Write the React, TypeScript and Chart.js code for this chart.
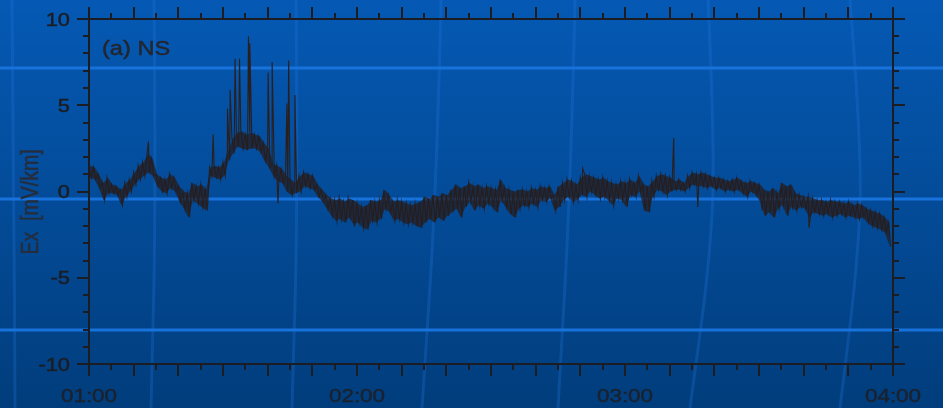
import React, { useEffect, useRef } from 'react';
import { Chart, registerables } from 'chart.js';

Chart.register(...registerables);

// Time axis: minutes of the day, 01:00 .. 04:00
const START_MINUTE = 60;
const END_MINUTE = 240;
const HOUR_LABELS = ['01:00', '02:00', '03:00', '04:00'];

// Ex field, NS component [mV/km]: upper and lower edge of the noisy trace, one pair per minute after 01:00
const exHigh = [
  1.5, 1.4, 1.0, 0.5, 0.8, 0.4, 0.3, 0.1, 0.5, 0.7,
  1.1, 1.5, 1.7, 2.2, 1.9, 1.0, 0.8, 0.7, 1.0, 0.8,
  0.3, 0.0, -0.1, 0.5, 0.3, 0.4, 0.1, 1.4, 1.5, 1.4,
  1.7, 2.4, 3.1, 3.4, 3.5, 3.3, 3.4, 3.3, 3.2, 2.8,
  2.5, 1.6, 1.5, 1.3, 0.9, 0.7, 0.5, 0.9, 1.1, 1.0,
  0.9, 0.4, 0.1, -0.2, -0.4, -0.5, -0.4, -0.6, -0.4, -0.5,
  -0.7, -0.9, -0.8, -0.5, -0.6, -0.5, 0.1, -0.2, -0.6, -0.5,
  -0.6, -0.7, -0.8, -0.7, -0.6, -0.3, -0.4, -0.2, -0.3, -0.1,
  -0.2, 0.1, 0.4, 0.2, 0.3, 0.5, 0.3, 0.4, 0.2, 0.3,
  0.2, 0.1, 0.7, 0.2, 0.1, 0.0, 0.1, 0.1, 0.0, 0.2,
  0.1, 0.3, 0.2, 0.3, -0.2, 0.3, 0.5, 0.7, 0.6, 0.4,
  0.8, 1.0, 0.9, 0.8, 0.7, 0.8, 0.6, 0.5, 0.4, 0.6,
  0.5, 0.7, 0.5, 0.9, 0.4, 0.3, 0.6, 0.9, 1.0, 0.9,
  0.8, 0.6, 0.7, 0.5, 0.9, 1.1, 1.0, 1.1, 1.0, 0.9,
  0.8, 0.8, 0.7, 0.6, 0.7, 0.8, 0.6, 0.5, 0.6, 0.5,
  0.4, 0.1, 0.0, 0.2, -0.1, 0.5, 0.3, 0.4, -0.1, -0.2,
  -0.3, -0.3, -0.4, -0.5, -0.5, -0.6, -0.5, -0.6, -0.6, -0.7,
  -0.6, -0.8, -0.7, -0.8, -1.0, -1.1, -1.2, -1.3, -1.5, -1.8,
];

const exLow = [
  0.8, 0.7, 0.2, -0.5, -0.1, -0.1, -0.2, -0.8, -0.3, 0.0,
  0.4, 0.7, 0.9, 1.1, 0.9, 0.3, 0.0, -0.1, 0.2, 0.0,
  -0.6, -1.0, -1.5, -0.5, -0.7, -0.9, -1.1, 0.9, 0.8, 0.7,
  0.9, 1.8, 2.2, 2.6, 2.5, 2.4, 2.5, 2.5, 2.3, 1.8,
  1.4, 0.9, 0.6, 0.5, 0.0, -0.2, -0.1, 0.0, 0.3, 0.2,
  0.1, -0.3, -0.6, -1.0, -1.4, -1.7, -1.6, -1.8, -1.5, -1.9,
  -1.8, -2.1, -2.2, -1.7, -1.8, -1.6, -1.0, -1.2, -1.7, -1.6,
  -1.8, -1.9, -1.8, -2.0, -2.1, -1.8, -1.6, -1.8, -1.5, -1.7,
  -1.4, -1.2, -1.0, -1.5, -0.9, -0.6, -1.1, -0.8, -1.0, -0.7,
  -0.9, -1.2, -0.5, -0.9, -1.3, -1.5, -1.0, -0.8, -0.9, -0.7,
  -0.9, -0.5, -0.6, -0.4, -1.1, -0.9, -0.5, -0.3, -0.6, -0.5,
  -0.2, -0.3, 0.0, -0.2, -0.4, -0.3, -0.5, -0.8, -0.4, -0.5,
  -0.9, -0.2, -0.3, 0.0, -1.1, -1.2, -0.3, 0.1, 0.0, -0.2,
  0.0, 0.1, 0.1, 0.0, 0.2, 0.4, 0.3, 0.3, 0.2, 0.3,
  0.1, 0.2, 0.0, 0.1, 0.0, 0.1, -0.1, -0.3, 0.0, -0.2,
  -0.6, -1.4, -1.2, -1.5, -1.0, -0.8, -1.4, -0.9, -1.1, -0.9,
  -1.0, -1.5, -1.2, -1.3, -1.4, -1.3, -1.5, -1.4, -1.3, -1.5,
  -1.4, -1.5, -1.6, -1.5, -1.8, -2.0, -2.1, -2.2, -2.4, -3.2,
];

// Short impulsive excursions (minutes after 01:00, value in mV/km)
const spikeMinutes = [13.3, 27.8, 31.0, 31.6, 32.7, 33.7, 35.7, 36.0, 40.1, 41.0, 42.3, 44.3, 44.7, 46.1, 59.4, 110.5, 130.9, 136.3, 150.7, 161.2];
const spikeValues = [2.9, 3.3, 4.8, 5.9, 7.7, 7.7, 9.0, 8.6, 6.9, 7.5, -0.7, 5.1, 7.6, 5.6, -2.0, 1.35, 3.1, -0.9, -1.1, -2.1];

const Y_MIN = -10;
const Y_MAX = 10;
const Y_LABEL_STEP = 5;
const PANEL_LABEL = '(a) NS';
const Y_TITLE = 'Ex  [mV/km]';

// ---- derived series for the library ----
const tracePoints = (() => {
  const pts: { x: number; y: number }[] = [];
  exHigh.forEach((v, i) => {
    pts.push({ x: START_MINUTE + i, y: v });
    pts.push({ x: START_MINUTE + i + 0.5, y: exLow[i] });
  });
  spikeMinutes.forEach((m, i) => pts.push({ x: START_MINUTE + m, y: spikeValues[i] }));
  return pts.sort((a, b) => a.x - b.x);
})();
const highEdge = exHigh.map((v, i) => ({ x: START_MINUTE + i + 0.25, y: v }));
const lowEdge = exLow.map((v, i) => ({ x: START_MINUTE + i + 0.25, y: v }));

const FONT = '"Liberation Sans", Arial, Helvetica, sans-serif';
const STRETCH = 1.18;
const INK = '#1c1d22';

function drawText(ctx: CanvasRenderingContext2D, text: string, x: number, y: number, align: CanvasTextAlign, size: number, color: string) {
  ctx.save();
  ctx.translate(x, y);
  ctx.scale(STRETCH, 1);
  ctx.font = `${size}px ${FONT}`;
  ctx.fillStyle = color;
  ctx.strokeStyle = color;
  ctx.lineWidth = 0.45;
  ctx.textAlign = align;
  ctx.textBaseline = 'alphabetic';
  ctx.fillText(text, 0, 0);
  ctx.strokeText(text, 0, 0);
  ctx.restore();
}

// Backdrop: blue gradient with bright horizontal rules and faint bowed verticals
const backdropArcs: number[][][] = [
  [[12, 0], [14, 200], [15, 408]],
  [[154, 0], [156, 200], [151, 408]],
  [[296, 0], [298, 200], [292, 408]],
  [[441, 0], [437, 180], [422, 408]],
  [[575, 0], [571, 180], [558, 408]],
  [[708, 0], [715, 150], [710, 260], [690, 408]],
  [[850, 0], [862, 150], [858, 260], [840, 408]],
];
const backdropRules = [68, 199, 330];

const backdropPlugin = {
  id: 'backdrop',
  beforeDraw(chart: Chart) {
    const { ctx, width, height } = chart;
    ctx.save();
    const g = ctx.createLinearGradient(0, 0, 0, height);
    g.addColorStop(0, '#0559b4');
    g.addColorStop(1, '#013d7c');
    ctx.fillStyle = g;
    ctx.fillRect(0, 0, width, height);

    ctx.lineWidth = 3;
    ctx.strokeStyle = 'rgba(35,118,222,0.28)';
    backdropArcs.forEach((pts) => {
      ctx.beginPath();
      ctx.moveTo(pts[0][0], pts[0][1]);
      for (let i = 1; i < pts.length - 1; i++) {
        const mx = (pts[i][0] + pts[i + 1][0]) / 2;
        const my = (pts[i][1] + pts[i + 1][1]) / 2;
        ctx.quadraticCurveTo(pts[i][0], pts[i][1], mx, my);
      }
      const last = pts[pts.length - 1];
      ctx.lineTo(last[0], last[1]);
      ctx.stroke();
    });

    ctx.lineWidth = 3;
    ctx.strokeStyle = '#1872dc';
    backdropRules.forEach((y) => {
      ctx.beginPath();
      ctx.moveTo(0, y);
      ctx.lineTo(width, y);
      ctx.stroke();
    });
    ctx.restore();
  },
};

// Boxed frame with outward major/minor ticks and stretched labels
const framePlugin = {
  id: 'frame',
  afterDraw(chart: Chart) {
    const { ctx, chartArea } = chart;
    const { left, right, top, bottom } = chartArea;
    const xs = chart.scales.x;
    const ys = chart.scales.y;
    ctx.save();
    ctx.strokeStyle = INK;
    ctx.lineWidth = 2;
    ctx.lineCap = 'butt';
    ctx.strokeRect(left, top, right - left, bottom - top);

    ctx.beginPath();
    for (let m = START_MINUTE; m <= END_MINUTE; m += 5) {
      const px = Math.round(xs.getPixelForValue(m));
      const len = m % 10 === 0 ? 12 : 6;
      ctx.moveTo(px, bottom);
      ctx.lineTo(px, bottom + len);
      ctx.moveTo(px, top);
      ctx.lineTo(px, top - len);
    }
    for (let v = Y_MIN; v <= Y_MAX; v += 1) {
      const py = Math.round(ys.getPixelForValue(v));
      const len = v % 5 === 0 ? 12 : 6;
      ctx.moveTo(left, py);
      ctx.lineTo(left - len, py);
      ctx.moveTo(right, py);
      ctx.lineTo(right + len, py);
    }
    ctx.stroke();
    ctx.restore();

    xs.ticks.forEach((t, i) => {
      drawText(ctx, HOUR_LABELS[i] ?? '', xs.getPixelForValue(t.value), bottom + 37.5, 'center', 19, '#1b222e');
    });
    ys.ticks.forEach((t) => {
      drawText(ctx, String(t.value), left - 19, ys.getPixelForValue(t.value) + 6.6, 'right', 18.5, INK);
    });

    drawText(ctx, PANEL_LABEL, left + 13, top + 35.5, 'left', 20, '#23262f');

    ctx.save();
    ctx.translate(38, (top + bottom) / 2 + 10.5);
    ctx.scale(STRETCH, 1);
    ctx.rotate(-Math.PI / 2);
    ctx.font = `19.5px ${FONT}`;
    ctx.fillStyle = '#262d3b';
    ctx.strokeStyle = '#262d3b';
    ctx.lineWidth = 0.4;
    ctx.textAlign = 'center';
    ctx.textBaseline = 'alphabetic';
    ctx.fillText(Y_TITLE, 0, 0);
    ctx.strokeText(Y_TITLE, 0, 0);
    ctx.restore();
  },
};

export default function App() {
  const canvasRef = useRef<HTMLCanvasElement>(null);

  useEffect(() => {
    document.body.style.margin = '0';
    const canvas = canvasRef.current;
    if (!canvas) return;
    const chart = new Chart(canvas, {
      type: 'line',
      data: {
        datasets: [
          {
            data: highEdge,
            borderWidth: 0,
            pointRadius: 0,
            fill: '+1',
            backgroundColor: 'rgba(38,28,28,0.72)',
            tension: 0,
          },
          {
            data: lowEdge,
            borderWidth: 0,
            pointRadius: 0,
            fill: false,
            tension: 0,
          },
          {
            data: tracePoints,
            borderColor: '#2a1f1f',
            borderWidth: 1.1,
            pointRadius: 0,
            fill: false,
            tension: 0,
          },
        ],
      },
      options: {
        animation: false,
        responsive: true,
        maintainAspectRatio: false,
        devicePixelRatio: 1,
        events: [],
        layout: { padding: { top: 19, right: 50, left: 0, bottom: 0 } },
        plugins: { legend: { display: false }, tooltip: { enabled: false }, title: { display: false } },
        scales: {
          x: {
            type: 'linear',
            min: START_MINUTE,
            max: END_MINUTE,
            ticks: { stepSize: 60, display: false },
            grid: { display: false, drawTicks: false },
            border: { display: false },
            afterFit: (s: any) => { s.height = 44; },
          },
          y: {
            type: 'linear',
            min: Y_MIN,
            max: Y_MAX,
            ticks: { stepSize: Y_LABEL_STEP, display: false },
            grid: { display: false, drawTicks: false },
            border: { display: false },
            afterFit: (s: any) => { s.width = 89; },
          },
        },
      },
      plugins: [backdropPlugin, framePlugin],
    });
    return () => chart.destroy();
  }, []);

  return (
    <div style={{ position: 'relative', width: 943, height: 408 }}>
      <canvas ref={canvasRef} />
    </div>
  );
}
